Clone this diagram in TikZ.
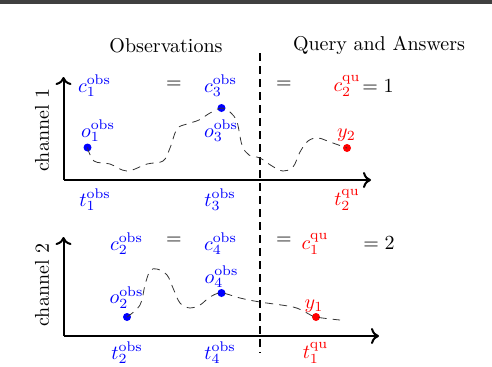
\documentclass[tikz,border=0pt]{standalone}
\usepackage{tikz}
\usetikzlibrary{arrows.meta}
\tikzset{
  lbl/.style={inner sep=1pt},
  kobs/.style={lbl, text=blue}, kqu/.style={lbl, text=red},
  kobsdot/.style={circle, fill=blue, inner sep=0pt, minimum size=4pt},
  kqudot/.style={circle, fill=red, inner sep=0pt, minimum size=4pt},
  axis/.style={-{To[length=4pt, width=8pt]}, line width=1pt},
  divider/.style={line width=0.8pt, dash pattern=on 4pt off 2.5pt},
  trace/.style={black!80, line width=0.4pt, dash pattern=on 4pt off 3pt},
}
\begin{document}
\begin{tikzpicture}[x=0.5pt, y=-0.5pt]
    \useasboundingbox (0,0) rectangle (492,366);
    \fill[black!75] (0,0) rectangle (492,3.5);
    \node[lbl] (obstitle) at (166,46) {Observations};
    \node[lbl] (qutitle) at (379,45) {Query and Answers};
    \coordinate (divtop) at (260,53);
    \coordinate (divbot) at (260,353);
    \draw[divider] (divtop) -- (divbot);
    % channel 1
    \coordinate (origA) at (63.5,180);
    \coordinate (yendA) at (63.5,77);
    \coordinate (xendA) at (371,180);
    \draw[axis] (origA) -- (yendA);
    \draw[axis] (origA) -- (xendA);
    \node[lbl, rotate=90] (chanA) at (42,130) {channel 1};
    \node[kobs] (c1obs) at (94.5,86) {$c_1^{\mathrm{obs}}$};
    \node[lbl] (eqA1) at (174,85) {$=$};
    \node[kobs] (c3obs) at (220.5,86) {$c_3^{\mathrm{obs}}$};
    \node[lbl] (eqA2) at (284,85) {$=$};
    \node[kqu] (c2qu) at (347,86) {$c_2^{\mathrm{qu}}$};
    \node[lbl] (valA) at (378,86) {$= 1$};
    \node[kobsdot] (o1dot) at (87.5,147.5) {};
    \node[kobsdot] (o3dot) at (221.5,108) {};
    \node[kqudot] (y2dot) at (347,148) {};
    \node[kobs] (o1obs) at (98,131) {$o_1^{\mathrm{obs}}$};
    \node[kobs] (o3obs) at (221,131) {$o_3^{\mathrm{obs}}$};
    \node[kqu] (y2) at (346.5,135.5) {$y_2$};
    \node[kobs] (t1obs) at (95,200) {$t_1^{\mathrm{obs}}$};
    \node[kobs] (t3obs) at (220,200) {$t_3^{\mathrm{obs}}$};
    \node[kqu] (t2qu) at (347,200) {$t_2^{\mathrm{qu}}$};
    \draw[trace] plot[smooth, tension=0.6] coordinates {(o1dot) (94,161) (110,164) (127,171) (147,164)
      (163,161) (170,148) (177,129) (187,124) (199,120) (210,113) (o3dot) (230,112) (237,122)
      (242,145) (249,155) (260,158) (272,166) (283,171) (293,167) (300,152) (308,141) (318,138)
      (330,142) (y2dot)};
    % channel 2
    \coordinate (origB) at (63.5,336);
    \coordinate (yendB) at (63.5,237);
    \coordinate (xendB) at (379,336);
    \draw[axis] (origB) -- (yendB);
    \draw[axis] (origB) -- (xendB);
    \node[lbl, rotate=90] (chanB) at (42,285) {channel 2};
    \node[kobs] (c2obs) at (126.5,244) {$c_2^{\mathrm{obs}}$};
    \node[lbl] (eqB1) at (174,241) {$=$};
    \node[kobs] (c4obs) at (220.5,244) {$c_4^{\mathrm{obs}}$};
    \node[lbl] (eqB2) at (284,241) {$=$};
    \node[kqu] (c1qu) at (315,244) {$c_1^{\mathrm{qu}}$};
    \node[lbl] (valB) at (379,243) {$= 2$};
    \node[kobsdot] (o2dot) at (127,317) {};
    \node[kobsdot] (o4dot) at (221.5,293) {};
    \node[kqudot] (y1dot) at (316,317) {};
    \node[kobs] (o2obs) at (126.5,297.5) {$o_2^{\mathrm{obs}}$};
    \node[kobs] (o4obs) at (221.5,277) {$o_4^{\mathrm{obs}}$};
    \node[kqu] (y1) at (314,306) {$y_1$};
    \node[kobs] (t2obs) at (127,353) {$t_2^{\mathrm{obs}}$};
    \node[kobs] (t4obs) at (220,353) {$t_4^{\mathrm{obs}}$};
    \node[kqu] (t1qu) at (315.5,353) {$t_1^{\mathrm{qu}}$};
    \draw[trace] plot[smooth, tension=0.6] coordinates {(o2dot) (140,305) (145,285) (150,271)
      (157,269) (167,275) (173,288) (180,303) (190,308) (200,305) (210,297) (o4dot) (240,298)
      (260,302) (293,307) (307,313) (y1dot) (340,320)};
\end{tikzpicture}
\end{document}
